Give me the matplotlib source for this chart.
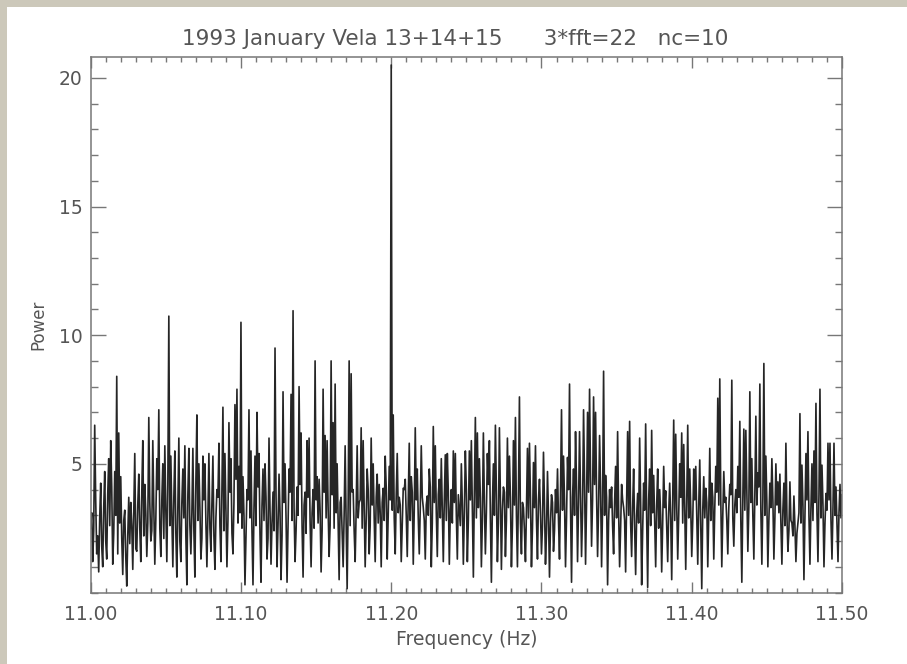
import numpy as np
import matplotlib
matplotlib.use('Agg')
import matplotlib.pyplot as plt
from matplotlib.patches import Rectangle
from matplotlib.ticker import MultipleLocator

# Power values, 11.00 Hz -> 11.50 Hz
# (peaks and dips of the trace, every second frequency bin)
power = [
    2.5, 1.2, 6.5, 1.5, 0.8, 4.25, 1.0, 4.7, 1.3, 5.2,
    5.9, 1.1, 4.7, 8.4, 6.2, 4.5, 0.7, 3.2, 0.25, 3.7,
    3.5, 0.9, 5.4, 1.6, 4.6, 1.2, 5.9, 4.2, 1.4, 6.8,
    2.0, 5.9, 1.1, 5.2, 7.1, 1.4, 5.0, 5.7, 1.2, 10.74,
    5.3, 1.0, 5.5, 0.6, 6.0, 1.2, 4.8, 5.7, 0.3, 5.6,
    1.5, 5.6, 0.6, 6.9, 5.0, 1.3, 5.3, 5.0, 1.0, 5.4,
    1.6, 5.3, 0.9, 4.0,
    5.8, 1.2, 7.2, 5.4, 1.0, 6.6, 5.2, 1.5, 7.3, 7.9,
    4.9, 10.5, 4.5, 0.3, 4.0, 7.1, 5.5, 0.3, 5.3, 7.0,
    5.4, 0.4, 4.8, 5.0, 1.3, 6.0, 1.1, 3.9, 9.5, 1.0,
    4.6, 0.5, 7.8, 5.0, 0.4, 4.8, 7.7, 10.95, 1.2, 4.1,
    8.0, 6.2, 0.6, 3.9, 5.9, 6.0, 1.0, 4.0, 9.0, 4.5,
    4.4, 0.8, 7.9, 6.1, 5.9, 1.4, 9.0, 6.6, 8.1, 5.0,
    0.5, 3.7,
    1.0, 5.7, 0.15, 9.0, 8.5, 4.0, 1.2, 5.7, 3.5, 6.4,
    5.9, 1.0, 4.8, 1.5, 6.0, 5.0, 1.2, 4.6, 4.2, 1.0,
    4.05, 5.3, 1.3, 4.9, 20.5, 6.9, 1.5, 5.4, 3.7, 1.2,
    4.05, 4.4, 1.4, 5.8, 4.5, 1.1, 6.4, 4.8, 1.5, 5.7,
    3.3, 1.3, 3.75, 4.8, 1.0, 6.45, 5.7, 1.4, 4.4, 5.2,
    1.2, 5.35, 5.4, 1.1, 4.0, 5.5, 5.4, 1.3, 3.2, 5.0,
    1.1, 5.5, 1.2,
    5.5, 5.9, 0.6, 6.8, 6.2, 5.2, 1.0, 6.2, 1.5, 5.4,
    5.9, 0.4, 5.0, 6.5, 1.2, 6.4, 0.9, 4.1, 1.4, 6.0,
    5.3, 1.0, 5.9, 6.8, 1.0, 7.6, 1.5, 3.3, 1.2, 5.6,
    5.8, 1.0, 5.05, 5.7, 1.3, 4.4, 1.5, 5.45, 1.1, 4.7,
    0.6, 3.8, 1.6, 4.0, 4.8, 1.3, 7.1, 5.3, 1.0, 5.25,
    8.1, 0.4, 4.8, 6.25, 1.2, 6.25, 1.4, 7.1, 1.1, 7.0,
    7.9, 1.8, 7.6, 7.0, 1.4, 6.1, 1.0, 8.6,
    4.55, 0.3, 4.0, 4.1, 1.5, 4.9, 6.25, 1.0, 4.2, 3.3,
    0.8, 6.25, 6.65, 1.4, 4.8, 0.7, 3.85, 6.0, 0.3, 4.25,
    6.55, 0.2, 4.8, 6.3, 4.55, 1.0, 4.8, 4.0, 0.8, 4.9,
    3.95, 1.2, 4.25, 0.5, 6.7, 6.15, 1.3, 5.0, 6.2, 5.75,
    0.9, 6.5, 4.8, 1.4, 4.8, 4.9, 1.1, 5.15, 0.15, 4.5,
    4.05, 1.0, 5.6, 4.25, 1.3, 4.9, 7.55,
    8.3, 1.0, 4.7, 3.7, 1.5, 4.2, 8.25, 1.8, 4.0, 4.9,
    6.65, 0.4, 6.35, 6.3, 1.6, 7.8, 5.2, 1.3, 6.85, 4.65,
    8.1, 1.1, 8.9, 5.3, 1.0, 4.25, 5.2, 1.3, 5.0, 4.3,
    4.6, 1.1, 4.25, 5.8, 1.6, 4.3, 2.7, 3.75, 1.2, 2.7,
    6.95, 4.95, 0.5, 5.4, 6.25, 1.1, 5.0, 5.5, 7.35, 1.2,
    7.9, 4.95, 1.0, 3.85, 5.8, 5.8, 1.3, 5.8, 4.1, 1.2,
    4.2, 3.8,
]

# Power in the bins between the ones above (the dense dark band of the trace)
power_between = [
    3.1, 2.4, 3.6, 2.2, 2.9, 1.8, 3.3, 2.0, 3.8, 2.6, 4.1, 2.3, 3.0, 1.5, 2.7,
    2.1, 2.8, 1.4, 2.2, 1.9, 2.6, 3.2, 1.7, 3.4, 2.5, 3.9, 2.2, 3.1, 2.7, 3.5,
    2.4, 3.3, 2.8, 4.0, 2.5, 3.6, 2.1, 3.2, 4.2, 2.6, 3.0, 3.7, 2.3, 3.4, 2.0,
    3.5, 2.9, 2.2, 3.8, 2.6, 3.1, 2.4, 4.3, 2.8, 3.3, 2.1, 3.6, 2.7, 3.0, 2.5,
    3.4, 2.2, 2.9, 3.7, 2.6, 4.0, 2.4, 3.2, 2.8, 3.9, 2.3, 3.5, 4.4, 2.7, 3.1,
    2.5, 3.0, 2.2, 3.6, 2.9, 2.4, 3.3, 2.6, 4.1, 2.3, 3.4, 2.8, 3.7, 2.1, 3.2,
    2.7, 2.4, 3.8, 2.6, 3.1, 2.2, 3.5, 2.9, 2.5, 3.9, 2.8, 3.3, 2.4, 3.0, 4.2,
    2.6, 3.4, 2.3, 3.7, 2.8, 3.1, 2.5, 3.6, 2.7, 3.2, 2.4, 3.9, 2.9, 3.3, 2.6,
    3.8, 2.5, 3.1, 2.8, 3.5, 2.3, 3.0, 2.7, 3.4, 2.6, 3.9, 2.4, 3.2, 2.9, 3.6,
    2.5, 3.3, 2.8, 4.0, 2.6, 3.4, 2.9, 3.7, 2.7, 3.1, 3.5, 2.8, 4.1, 3.0, 3.6,
    3.2, 2.9, 3.8, 3.1, 3.4, 2.7, 4.0, 3.0, 3.5, 2.8, 3.9, 3.2, 3.6, 2.9, 3.3,
    3.7, 2.8, 3.4, 3.0, 4.1, 2.7, 3.5, 3.1, 3.8, 2.9, 3.3, 3.6, 2.8, 3.9, 3.2,
    2.7, 3.5, 3.0, 3.8, 2.6, 3.4, 3.1, 4.0, 2.8, 3.6, 3.2, 3.9, 2.9, 3.3, 3.7,
    2.8, 3.5, 3.1, 4.2, 2.9, 3.4, 3.0, 3.8, 2.7, 3.6, 3.2, 3.9, 2.8, 3.3, 3.7,
    2.6, 3.4, 3.0, 3.8, 2.7, 3.5, 2.4, 3.2, 2.9, 3.7, 2.5, 3.3, 2.8, 3.6, 3.1,
    2.6, 3.4, 2.3, 3.0, 2.7, 3.5, 2.4, 3.1, 2.8, 3.9, 3.2, 3.6, 2.9, 4.0, 3.3,
    3.7, 3.0, 4.1, 3.4, 3.8, 3.1, 4.3, 3.5, 3.9, 4.4, 3.6, 4.2, 3.8, 3.3, 4.0,
    3.4, 3.0, 3.7, 2.8, 3.3, 2.6, 3.5, 2.9, 3.2, 2.5, 3.6, 2.8, 3.4, 3.0, 2.7,
    3.3, 2.5, 3.0, 2.7, 3.5, 2.4, 3.2, 2.9, 3.6, 2.6, 3.1, 2.8, 3.4, 2.5, 3.0,
    2.7, 3.3, 2.6, 3.1, 2.9, 3.6, 2.8, 3.4, 3.0, 3.7, 2.7, 3.2, 3.5, 2.9, 3.3,
    2.8, 3.6, 3.0, 3.4, 2.7, 3.2, 2.9, 3.5, 3.1, 2.8, 3.7, 3.3, 3.9, 3.4, 3.6,
    3.0, 3.5, 2.8, 3.3, 3.8, 2.9, 3.4, 3.1, 3.7, 2.8, 3.6, 3.2, 4.0, 3.3, 3.5,
    3.0, 3.8, 3.4, 4.1, 3.2, 3.7, 3.0, 3.5, 2.8, 3.3, 3.6, 2.9, 3.4, 3.1, 2.7,
    3.2, 2.6, 3.0, 2.4, 2.8, 2.2, 2.6, 2.3, 3.1, 2.7, 3.4, 2.9, 3.6, 3.0, 3.3,
    2.8, 3.5, 3.1, 3.8, 2.9, 3.4, 2.7, 3.2, 3.6, 2.8, 3.3, 3.0, 2.6, 3.1, 2.9,
]

f_start, f_stop = 11.00, 11.50

x_ticks = [11.00, 11.10, 11.20, 11.30, 11.40, 11.50]
x_tick_labels = ['11.00', '11.10', '11.20', '11.30', '11.40', '11.50']
y_ticks = [5, 10, 15, 20]
y_tick_labels = ['5', '10', '15', '20']
title = '1993 January Vela 13+14+15      3*fft=22   nc=10'
x_label = 'Frequency (Hz)'
y_label = 'Power'

# full trace: interleave the two lists of bins
spectrum = np.empty(len(power) + len(power_between))
spectrum[0::2] = power
spectrum[1::2] = power_between
freq = np.linspace(f_start, f_stop, len(spectrum))

W, H = 907, 664
fig = plt.figure(figsize=(W / 100, H / 100), dpi=100)
fig.patch.set_facecolor('white')

# scanned-page border (top and left)
border = '#ccc8ba'
fig.add_artist(Rectangle((0, 1 - 7 / H), 1, 7 / H, transform=fig.transFigure,
                         facecolor=border, edgecolor='none', zorder=0))
fig.add_artist(Rectangle((0, 0), 7 / W, 1, transform=fig.transFigure,
                         facecolor=border, edgecolor='none', zorder=0))

left_px, right_px, top_px, bottom_px = 90.7, 842.0, 57.3, 592.5
ax = fig.add_axes([left_px / W, (H - bottom_px) / H,
                   (right_px - left_px) / W, (bottom_px - top_px) / H])
ax.set_facecolor('white')

ax.plot(freq, spectrum, color='#262626', lw=1.2)

ax.set_xlim(f_start, f_stop)
ax.set_ylim(0, 20.8)

ax.set_xticks(x_ticks)
ax.set_xticklabels(x_tick_labels)
ax.set_yticks(y_ticks)
ax.set_yticklabels(y_tick_labels)
ax.xaxis.set_minor_locator(MultipleLocator(0.01))
ax.yaxis.set_minor_locator(MultipleLocator(1))

spine_c = '#777777'
text_c = '#555555'
for s in ax.spines.values():
    s.set_color(spine_c)
    s.set_linewidth(1.1)

ax.tick_params(which='both', direction='in', top=True, right=True,
               colors=spine_c, labelcolor=text_c, width=1.0)
ax.tick_params(axis='x', which='major', length=8, pad=9, labelsize=13.5)
ax.tick_params(axis='x', which='minor', length=3.8)
ax.tick_params(axis='y', which='major', length=10.5, pad=6, labelsize=13.5)
ax.tick_params(axis='y', which='minor', length=5)

ax.set_xlabel(x_label, fontsize=13.5, color=text_c, labelpad=4)
ax.set_ylabel(y_label, fontsize=12, color=text_c, labelpad=8)

fig.text(455 / W, 1 - 39 / H, title, ha='center', va='center',
         fontsize=15.5, color=text_c)

fig.savefig('out.png', dpi=100)
